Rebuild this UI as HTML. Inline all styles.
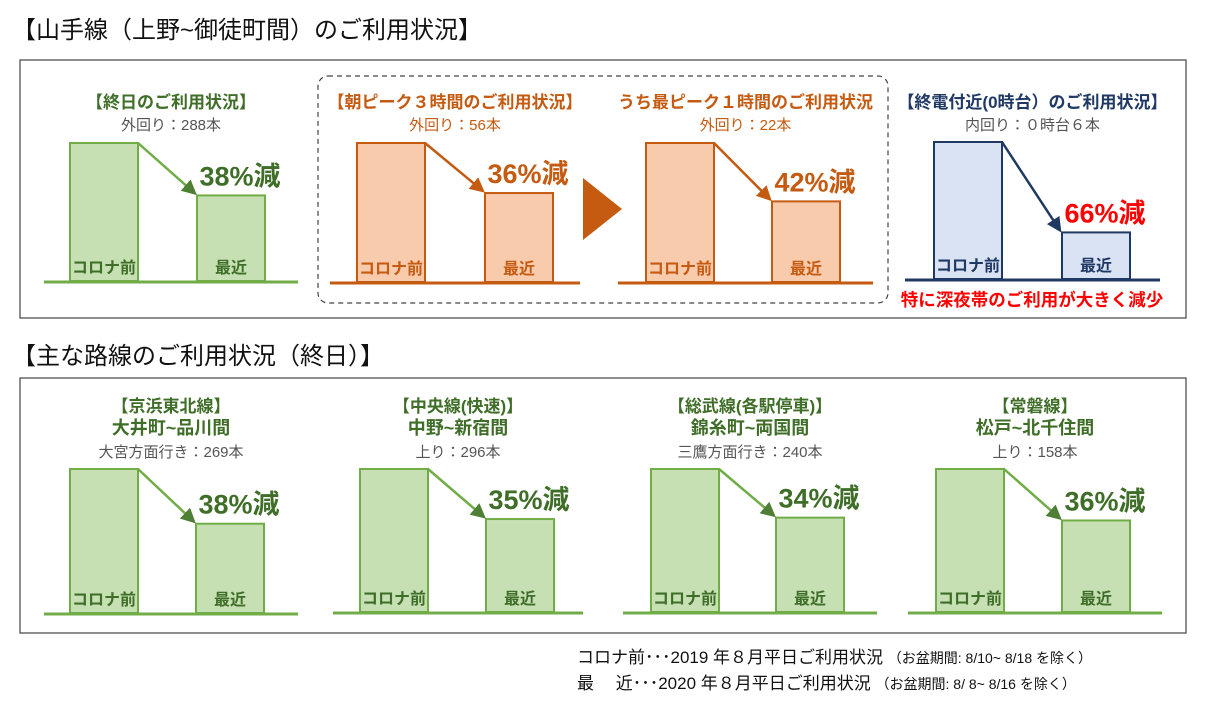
<!DOCTYPE html>
<html><head><meta charset="utf-8"><style>
body{margin:0;background:#fff;width:1208px;height:710px;overflow:hidden}
svg text{font-family:"Liberation Sans","Noto Sans CJK JP",sans-serif}
</style></head><body>
<svg id="s" width="1208" height="710" viewBox="0 0 1208 710">
<defs>
<marker id="ag" markerWidth="6" markerHeight="6" refX="5" refY="3" orient="auto" markerUnits="strokeWidth"><path d="M0,0 L6,3 L0,6 z" fill="#4f7f34"/></marker>
<marker id="ao" markerWidth="6" markerHeight="6" refX="5" refY="3" orient="auto" markerUnits="strokeWidth"><path d="M0,0 L6,3 L0,6 z" fill="#c55a11"/></marker>
<marker id="ab" markerWidth="6" markerHeight="6" refX="5" refY="3" orient="auto" markerUnits="strokeWidth"><path d="M0,0 L6,3 L0,6 z" fill="#1f3864"/></marker>
</defs>
<text x="12" y="38" font-size="24" fill="#111">【山手線（上野~御徒町間）のご利用状況】</text>
<rect x="20" y="60" width="1166" height="258" fill="none" stroke="#444" stroke-width="1.2"/>
<rect x="318" y="76" width="570" height="227" rx="10" fill="none" stroke="#444" stroke-width="1.2" stroke-dasharray="5,4"/>
<polygon points="583,178 622,209 583,240" fill="#c55a11"/>
<text x="1032" y="306" font-size="17.5" font-weight="bold" fill="#ff0000" text-anchor="middle">特に深夜帯のご利用が大きく減少</text>
<text x="12" y="364" font-size="24" fill="#111">【主な路線のご利用状況（終日）】</text>
<rect x="20" y="378" width="1166" height="255" fill="none" stroke="#444" stroke-width="1.2"/>
<text x="577" y="663" font-size="17" fill="#111">コロナ前･･･2019 年８月平日ご利用状況 <tspan font-size="14">（お盆期間: 8/10~ 8/18 を除く）</tspan></text>
<text x="577" y="689" font-size="17" fill="#111">最　 近･･･2020 年８月平日ご利用状況 <tspan font-size="14">（お盆期間: 8/ 8~ 8/16 を除く）</tspan></text>
</svg>
<script>
const panelTitles=["【終日のご利用状況】","【朝ピーク３時間のご利用状況】","うち最ピーク１時間のご利用状況","【終電付近(0時台）のご利用状況】","【京浜東北線】","【中央線(快速)】","【総武線(各駅停車)】","【常磐線】"];
const panelSubtitles=["","","","","大井町~品川間","中野~新宿間","錦糸町~両国間","松戸~北千住間"];
const panelNotes=["外回り：288本","外回り：56本","外回り：22本","内回り：０時台６本","大宮方面行き：269本","上り：296本","三鷹方面行き：240本","上り：158本"];
const reductionPct=[38,36,42,66,38,35,34,36];
const themes=["g","o","o","b","g","g","g","g"];
const C={g:{fill:"#c6e0b4",stroke:"#70ad47",text:"#3f6e28",sub:"#555",mk:"ag",pct:"#3f6e28"},
o:{fill:"#f8cbad",stroke:"#c55a11",text:"#c55a11",sub:"#c55a11",mk:"ao",pct:"#c55a11"},
b:{fill:"#dae3f3",stroke:"#1f3864",text:"#1f3864",sub:"#555",mk:"ab",pct:"#ff0000"}};
const L=[
{bx:44,bw:254,x1:70,x2:197,base:281,top:143,ty:102},
{bx:330,bw:250,x1:357,x2:485,base:282,top:143,ty:102},
{bx:618,bw:255,x1:646,x2:772,base:282,top:143,ty:102},
{bx:905,bw:255,x1:934,x2:1062,base:279,top:142,ty:102},
{bx:44,bw:254,x1:70,x2:196,base:613,top:469,ty:406},
{bx:333,bw:250,x1:360,x2:486,base:612,top:469,ty:406},
{bx:623,bw:254,x1:651,x2:776,base:612,top:469,ty:406},
{bx:908,bw:254,x1:936,x2:1062,base:612,top:469,ty:406}];
const S=document.getElementById('s');const NS="http://www.w3.org/2000/svg";
function mk(t,a,txt){const e=document.createElementNS(NS,t);for(const k in a)e.setAttribute(k,a[k]);if(txt!==undefined)e.textContent=txt;S.appendChild(e);return e;}
reductionPct.forEach((p,i)=>{
 const l=L[i],c=C[themes[i]],bw=68;
 const h1=l.base-l.top, h2=h1*(1-p/100), t2=l.base-h2, cx=l.bx+l.bw/2;
 let e=mk('text',{x:cx,y:l.ty+6,'font-size':17,'font-weight':'bold',fill:c.text,'text-anchor':'middle'},panelTitles[i]);
 
 
 let ny=l.ty+28;
 if(panelSubtitles[i]){e=mk('text',{x:cx,y:l.ty+28,'font-size':18,'font-weight':'bold',fill:c.text,'text-anchor':'middle'},panelSubtitles[i]);
 
 
 ny=l.ty+51;}
 e=mk('text',{x:cx,y:ny,'font-size':15,fill:c.sub,'text-anchor':'middle'},panelNotes[i]);
 
 
 e=mk('rect',{x:l.x1,y:l.top,width:bw,height:h1,fill:c.fill,stroke:c.stroke,'stroke-width':2});
 
 
 e=mk('rect',{x:l.x2,y:t2,width:bw,height:h2,fill:c.fill,stroke:c.stroke,'stroke-width':2});
 
 
 e=mk('line',{x1:l.bx,x2:l.bx+l.bw,y1:l.base+1,y2:l.base+1,stroke:c.stroke,'stroke-width':3});
 
 
 e=mk('line',{x1:l.x1+bw,y1:l.top,x2:l.x2-2,y2:t2-2,stroke:c.stroke,'stroke-width':2.5,'marker-end':'url(#'+c.mk+')'});
 
 
 e=mk('text',{x:l.x2+bw/2,y:l.base-8,'font-size':16,'font-weight':'bold',fill:c.text,'text-anchor':'middle'},'最近');
 
 
 e=mk('text',{x:l.x1+bw/2,y:l.base-8,'font-size':16,'font-weight':'bold',fill:c.text,'text-anchor':'middle'},'コロナ前');
 
 
 e=mk('text',{x:l.x2+bw/2+9,y:t2-10,'font-size':27,'font-weight':'bold',fill:c.pct,'text-anchor':'middle'},p+'%減');
 
 
});
</script>
</body></html>
